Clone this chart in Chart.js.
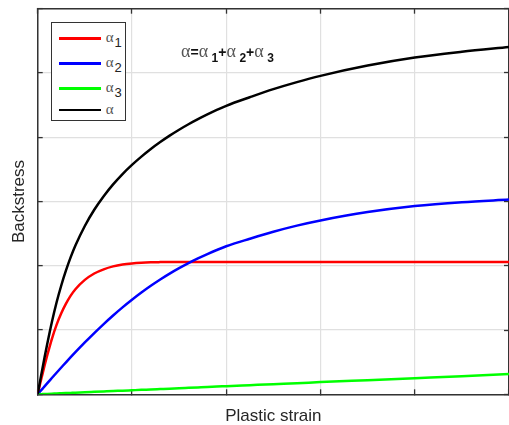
<!DOCTYPE html>
<html>
<head>
<meta charset="utf-8">
<script src="https://cdn.jsdelivr.net/npm/chart.js@4.4.0/dist/chart.umd.min.js"></script>
<style>
  body { margin: 0; background: #fff; overflow: hidden; }
  #wrap { position: relative; width: 509px; height: 425px; }
  #legend {
    position: absolute; left: 50.7px; top: 22.3px; width: 75.3px; height: 98.4px;
    box-sizing: border-box; border: 1.3px solid #333; background: #fff;
    padding-top: 2.5px;
  }
  .row { position: relative; height: 25px; }
  .row.last { height: 18px; }
  .swatch { position: absolute; left: 7.5px; top: 50%; width: 42px; height: 2.6px; margin-top: -1.3px; }
  .lbl { position: absolute; left: 54px; top: 50%; margin-top: -10px; line-height: 18px; white-space: nowrap; }
  .g { font: 15px "Liberation Serif", "Times New Roman", serif; color: #555; }
  .s { font: 13px "Liberation Sans", Arial, sans-serif; color: #222; position: relative; top: 5px; margin-left: 1px; }
  #formula {
    position: absolute; left: 181px; top: 41px; white-space: nowrap; line-height: 20px;
  }
  #formula .g { font-size: 18px; }
  #formula b { font: bold 14px "Liberation Sans", Arial, sans-serif; color: #111; }
  #formula .bs { font: bold 12px "Liberation Sans", Arial, sans-serif; color: #111; position: relative; top: 5px; margin-left: 3.5px; }
</style>
</head>
<body>
<div id="wrap">
  <canvas id="chart" width="509" height="425"></canvas>
  <div id="legend"></div>
  <div id="formula"><span class="g">α</span><b>=</b><span class="g">α</span><span class="bs">1</span><b>+</b><span class="g">α</span><span class="bs">2</span><b>+</b><span class="g">α</span><span class="bs">3</span></div>
</div>
<script>
// plastic strain samples (axis has no tick labels, one grid cell = 1 unit)
const strain = [0, 0.025, 0.05, 0.075, 0.1, 0.15, 0.2, 0.25, 0.3, 0.35, 0.4, 0.5, 0.6, 0.7, 0.8, 0.9, 1.0,
    1.1, 1.2, 1.3, 1.4, 1.5, 1.6, 1.7, 1.8, 1.9, 2.0, 2.25, 2.5, 2.75, 3.0, 3.5, 4.0, 4.5, 5.0];

// backstress components
const alpha1 = [0, 0.16, 0.31, 0.46, 0.60, 0.86, 1.08, 1.26, 1.41, 1.535, 1.635, 1.78, 1.88, 1.945, 1.99, 2.018, 2.035,
    2.046, 2.053, 2.057, 2.06, 2.06, 2.06, 2.06, 2.06, 2.06, 2.06, 2.06, 2.06, 2.06, 2.06, 2.06, 2.06, 2.06, 2.06];
const alpha2 = [0, 0.043, 0.085, 0.128, 0.17, 0.253, 0.336, 0.417, 0.498, 0.577, 0.655, 0.807, 0.953, 1.093, 1.226, 1.352, 1.471,
    1.583, 1.688, 1.786, 1.877, 1.962, 2.041, 2.114, 2.182, 2.245, 2.303, 2.42, 2.53, 2.625, 2.705, 2.835, 2.93, 2.99, 3.03];
const alpha3 = [0, 0.002, 0.003, 0.005, 0.006, 0.009, 0.013, 0.016, 0.019, 0.022, 0.025, 0.032, 0.038, 0.044, 0.05, 0.057, 0.063,
    0.069, 0.076, 0.082, 0.088, 0.095, 0.101, 0.107, 0.113, 0.12, 0.126, 0.142, 0.158, 0.173, 0.19, 0.22, 0.25, 0.28, 0.315];
const alphaTotal = [0, 0.205, 0.398, 0.593, 0.776, 1.122, 1.429, 1.693, 1.927, 2.134, 2.315, 2.619, 2.871, 3.082, 3.266, 3.427, 3.569,
    3.698, 3.817, 3.925, 4.025, 4.117, 4.202, 4.281, 4.355, 4.425, 4.489, 4.622, 4.748, 4.858, 4.955, 5.115, 5.24, 5.33, 5.405];

const seriesLabels = ['α1', 'α2', 'α3', 'α'];
const seriesColors = ['#ff0000', '#0000ff', '#00ff00', '#000000'];

const xTicks = [0, 1, 2, 3, 4, 5];
const yTicks = [0, 1, 2, 3, 4, 5, 6];

const axisColor = '#333333';
const gridColor = '#e0e0e0';

function toPoints(values) {
    return strain.map((x, i) => ({ x: x, y: values[i] }));
}

// legend drawn as html so the subscripts look right
const htmlLegend = {
    id: 'htmlLegend',
    afterUpdate(chart) {
        const box = document.getElementById('legend');
        box.innerHTML = '';
        chart.data.datasets.forEach((ds, i) => {
            const row = document.createElement('div');
            row.className = 'row' + (i === chart.data.datasets.length - 1 ? ' last' : '');
            const sw = document.createElement('div');
            sw.className = 'swatch';
            sw.style.background = ds.borderColor;
            const lbl = document.createElement('div');
            lbl.className = 'lbl';
            const base = ds.label.slice(0, 1);
            const sub = ds.label.slice(1);
            lbl.innerHTML = '<span class="g">' + base + '</span>' + (sub ? '<span class="s">' + sub + '</span>' : '');
            row.appendChild(sw);
            row.appendChild(lbl);
            box.appendChild(row);
        });
    }
};

const series = [alpha1, alpha2, alpha3, alphaTotal];
const drawOrder = [4, 3, 2, 1];

const datasets = series.map((vals, i) => ({
    label: seriesLabels[i],
    data: toPoints(vals),
    borderColor: seriesColors[i],
    backgroundColor: seriesColors[i],
    borderWidth: 2.5,
    pointRadius: 0,
    cubicInterpolationMode: 'monotone',
    fill: false,
    order: drawOrder[i]
}));

function fixedTicks(list) {
    return function (scale) {
        scale.ticks = list.map(v => ({ value: v }));
    };
}

const titleFont = { family: '"Liberation Sans", Arial, sans-serif', size: 17, lineHeight: 1.08 };

new Chart(document.getElementById('chart'), {
    type: 'line',
    data: { datasets: datasets },
    plugins: [htmlLegend],
    options: {
        responsive: false,
        animation: false,
        events: [],
        layout: { padding: { top: 8.7, right: -1.7, bottom: 0, left: 0 } },
        plugins: {
            legend: { display: false },
            tooltip: { enabled: false }
        },
        scales: {
            x: {
                type: 'linear', position: 'bottom', min: 0, max: 5,
                afterBuildTicks: fixedTicks(xTicks),
                ticks: { display: false },
                grid: { color: gridColor, lineWidth: 1.2, tickLength: -5, tickColor: axisColor, tickWidth: 1.3 },
                border: { color: axisColor, width: 1.5 },
                title: { display: true, text: 'Plastic strain', color: '#262626', font: titleFont, padding: { top: 0, bottom: 0 } },
                afterFit(s) { s.height = 30.7; }
            },
            y: {
                type: 'linear', position: 'left', min: 0, max: 6,
                afterBuildTicks: fixedTicks(yTicks),
                ticks: { display: false },
                grid: { color: gridColor, lineWidth: 1.2, tickLength: -5, tickColor: axisColor, tickWidth: 1.3 },
                border: { color: axisColor, width: 1.5 },
                title: { display: true, text: 'Backstress', color: '#262626', font: titleFont, padding: { top: 9.8, bottom: 0 } },
                afterFit(s) { s.width = 37.7; }
            },
            xTop: {
                type: 'linear', position: 'top', min: 0, max: 5,
                afterBuildTicks: fixedTicks(xTicks),
                ticks: { display: false },
                grid: { drawOnChartArea: false, tickLength: -5, tickColor: axisColor, tickWidth: 1.3 },
                border: { color: axisColor, width: 1.5 },
                afterFit(s) { s.height = 0; }
            },
            yRight: {
                type: 'linear', position: 'right', min: 0, max: 6,
                afterBuildTicks: fixedTicks(yTicks),
                ticks: { display: false },
                grid: { drawOnChartArea: false, tickLength: -5, tickColor: axisColor, tickWidth: 1.3 },
                border: { color: axisColor, width: 1.5 },
                afterFit(s) { s.width = 0; }
            }
        }
    }
});
</script>
</body>
</html>
